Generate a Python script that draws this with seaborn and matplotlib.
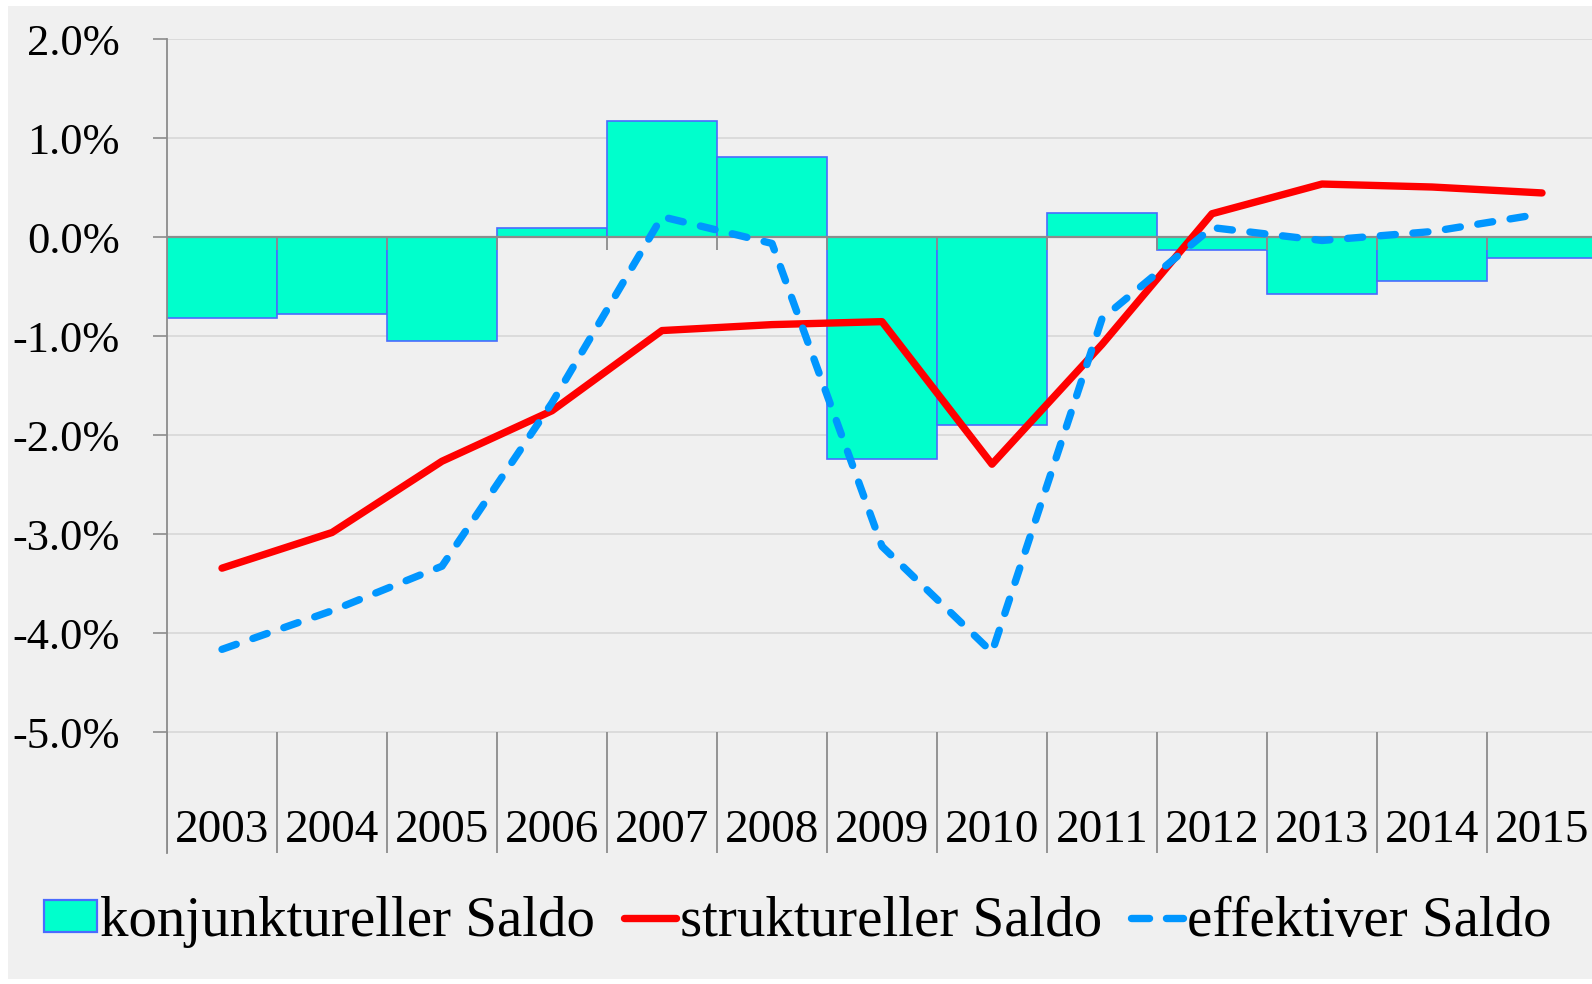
import matplotlib
matplotlib.use("Agg")
import numpy as np
import pandas as pd
import matplotlib.pyplot as plt
import seaborn as sns
from matplotlib.patches import Rectangle, Patch
from matplotlib.lines import Line2D

# ---- data ----
years = ["2003", "2004", "2005", "2006", "2007", "2008", "2009",
         "2010", "2011", "2012", "2013", "2014", "2015"]
konjunkturell = [-0.81, -0.77, -1.05, 0.10, 1.18, 0.81, -2.24,
                 -1.89, 0.25, -0.13, -0.57, -0.44, -0.21]
strukturell = [-3.34, -2.98, -2.26, -1.75, -0.94, -0.88, -0.85,
               -2.29, -1.08, 0.24, 0.54, 0.51, 0.45]
effektiv = [-4.16, -3.77, -3.32, -1.67, 0.21, -0.06, -3.12,
            -4.19, -0.82, 0.10, -0.03, 0.06, 0.24]
y_ticks = [-5, -4, -3, -2, -1, 0, 1, 2]
labels = ["konjunktureller Saldo", "struktureller Saldo", "effektiver Saldo"]

df = pd.DataFrame({"Jahr": years, "konj": konjunkturell,
                   "strukt": strukturell, "eff": effektiv})
df["pos"] = np.arange(len(df))

sns.set_theme(style="white")
plt.rcParams["font.family"] = ["Liberation Serif", "DejaVu Serif"]
plt.rcParams["text.color"] = "black"
plt.rcParams["ytick.color"] = "black"

W, H = 1592, 984
fig = plt.figure(figsize=(W / 100, H / 100), dpi=100, facecolor="white")
# chart area background
fig.patches.append(Rectangle((8 / W, 5 / H), 1.0, (979 - 6) / H,
                             transform=fig.transFigure, facecolor="#f0f0f0",
                             edgecolor="none", zorder=-10))

ax = fig.add_axes([167 / W, 131 / H, 1430 / W, 814 / H])
ax.set_facecolor("#f0f0f0")
ax.set_zorder(1)

BAR = "#00ffcc"
EDGE = "#4a6bff"
RED = "#ff0000"
BLUE = "#0096ff"
AXC = "#8c8c8c"
LW = 5.3
DASH = (0, (2.05, 2.4))

sns.barplot(data=df, x="pos", y="konj", width=1.0, color=BAR, saturation=1,
            edgecolor=EDGE, linewidth=1.2, ax=ax, zorder=2, native_scale=True)
sns.lineplot(data=df, x="pos", y="strukt", color=RED, linewidth=LW,
             ax=ax, zorder=5, solid_capstyle="round", solid_joinstyle="round",
             legend=False)
sns.lineplot(data=df, x="pos", y="eff", color=BLUE, linewidth=LW,
             ax=ax, zorder=6, linestyle=DASH,
             dash_capstyle="round", dash_joinstyle="round", legend=False)

ymin = (237.5 - 853) / 99.0
ax.set_xlim(-0.5, len(years) - 0.5)
ax.set_ylim(ymin, 2.005)

# gridlines
for v in y_ticks:
    if v != 0:
        ax.axhline(v, color="#d9d9d9", lw=1.3, zorder=1)
ax.axhline(0, color=AXC, lw=1.6, zorder=3)

# category dividers
bounds = np.arange(-0.5, len(years), 1.0)
ax.vlines(bounds, ymin, -5, color=AXC, lw=1.3, zorder=3)
ax.vlines(bounds, -0.13, 0, color=AXC, lw=1.3, zorder=3)

for i, yr in enumerate(years):
    ax.text(i, -6.11, yr, ha="center", va="baseline", fontsize=34,
            color="black")

ax.set_xticks([])
ax.set_yticks(y_ticks)
ax.set_yticklabels([f"{v:.1f}%" for v in y_ticks], fontsize=32)
ax.tick_params(axis="y", length=10, width=1.2, color=AXC, pad=24,
               labelcolor="black", left=True)
ax.set_xlabel("")
ax.set_ylabel("")
for s in ["top", "right", "bottom"]:
    ax.spines[s].set_visible(False)
ax.spines["left"].set_color(AXC)
ax.spines["left"].set_linewidth(1.3)
ax.spines["left"].set_bounds(ymin, 2.0)

handles = [
    Patch(facecolor=BAR, edgecolor=EDGE, linewidth=1.6),
    Line2D([], [], color=RED, lw=LW, solid_capstyle="round"),
    Line2D([], [], color=BLUE, lw=LW, linestyle=(0, (2.45, 2.3)),
           dash_capstyle="round"),
]
leg = fig.legend(handles, labels, loc="center", bbox_to_anchor=(0.501, 62 / H),
                 ncol=3, frameon=False, fontsize=41, handlelength=0.93,
                 handleheight=0.5, handletextpad=0.06, columnspacing=0.5)
for t in leg.get_texts():
    t.set_color("black")

fig.savefig("out.png", dpi=100, facecolor="white")
